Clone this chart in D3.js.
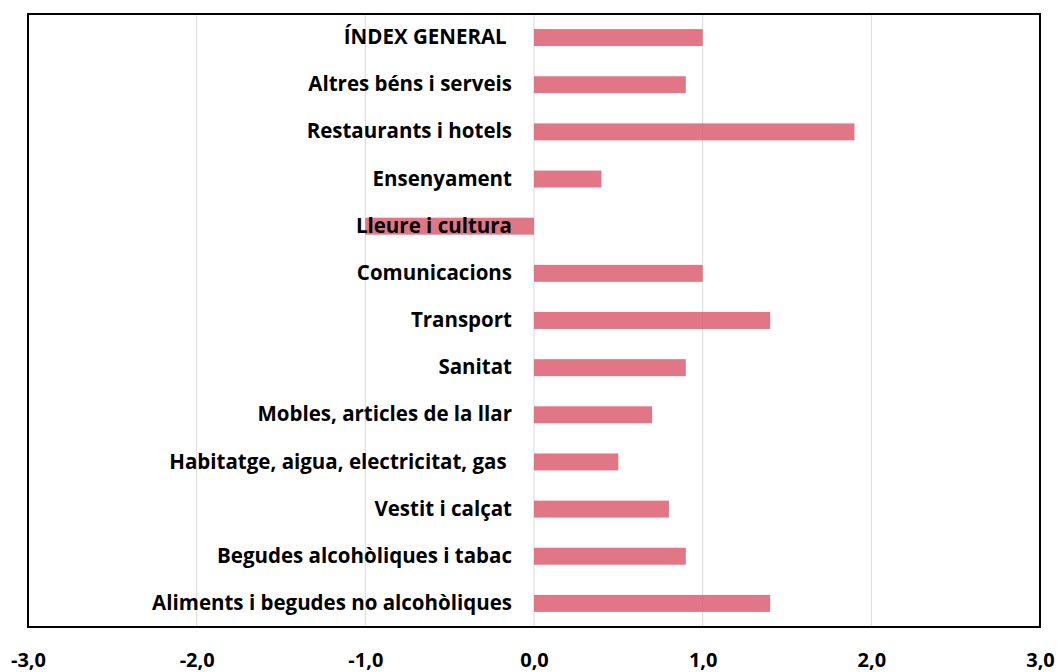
<!DOCTYPE html>
<html>
<head>
<meta charset="utf-8">
<script src="https://cdn.jsdelivr.net/npm/d3@7"></script>
<style>
body { margin: 0; background: #fff; }
svg text { font-family: "Open Sans", sans-serif; font-weight: bold; fill: #000; white-space: pre; }
</style>
</head>
<body>
<svg id="chart"></svg>
<script>
// categories from top to bottom
const categories = [
  "ÍNDEX GENERAL ",
  "Altres béns i serveis",
  "Restaurants i hotels",
  "Ensenyament",
  "Lleure i cultura",
  "Comunicacions",
  "Transport",
  "Sanitat",
  "Mobles, articles de la llar",
  "Habitatge, aigua, electricitat, gas ",
  "Vestit i calçat",
  "Begudes alcohòliques i tabac",
  "Aliments i begudes no alcohòliques"
];
const values = [1.0, 0.9, 1.9, 0.4, -1.0, 1.0, 1.4, 0.9, 0.7, 0.5, 0.8, 0.9, 1.4];
const xTicks = [-3, -2, -1, 0, 1, 2, 3];

const width = 1060, height = 672;
const plotL = 28, plotR = 1040, plotT = 14, plotB = 627;

const svg = d3.select("#chart").attr("width", width).attr("height", height);

const x = d3.scaleLinear().domain([-3, 3]).range([plotL, plotR]);
const y = d3.scaleBand().domain(categories).range([plotT, plotB]).paddingInner(0.64).paddingOuter(0.32);

const loc = d3.formatLocale({decimal: ",", thousands: ".", grouping: [3], currency: ["", "€"], minus: "-"});
const fmt = loc.format(".1f");

// gridlines
svg.append("g")
  .selectAll("line")
  .data(xTicks)
  .enter()
  .append("line")
  .attr("x1", d => x(d)).attr("x2", d => x(d))
  .attr("y1", plotT).attr("y2", plotB)
  .style("stroke", "#d9d9d9")
  .style("stroke-width", 1);

// bars
svg.append("g")
  .selectAll("rect")
  .data(values)
  .enter()
  .append("rect")
  .attr("x", d => x(Math.min(0, d)))
  .attr("width", d => Math.abs(x(d) - x(0)))
  .attr("y", (d, i) => y(categories[i]))
  .attr("height", y.bandwidth())
  .attr("fill", "#da5568")
  .attr("fill-opacity", 0.8);

// category labels
const yAxis = svg.append("g")
  .attr("transform", `translate(${x(0)},0)`)
  .call(d3.axisLeft(y).tickSize(0).tickPadding(22));
yAxis.select(".domain").remove();
yAxis.selectAll("text")
  .style("font-size", "20.5px")
  .style("font-family", "'Open Sans', sans-serif")
  .attr("fill", "#000");

// x axis labels
const xAxis = svg.append("g")
  .attr("transform", `translate(0,${plotB})`)
  .call(d3.axisBottom(x).tickValues(xTicks).tickFormat(fmt).tickSize(0).tickPadding(26));
xAxis.select(".domain").remove();
xAxis.selectAll("text")
  .style("font-size", "20px")
  .style("font-family", "'Open Sans', sans-serif")
  .attr("fill", "#000");

// plot border
svg.append("rect")
  .attr("x", plotL).attr("y", plotT)
  .attr("width", plotR - plotL).attr("height", plotB - plotT)
  .style("fill", "none")
  .style("stroke", "#000")
  .style("stroke-width", 2);
</script>
</body>
</html>
